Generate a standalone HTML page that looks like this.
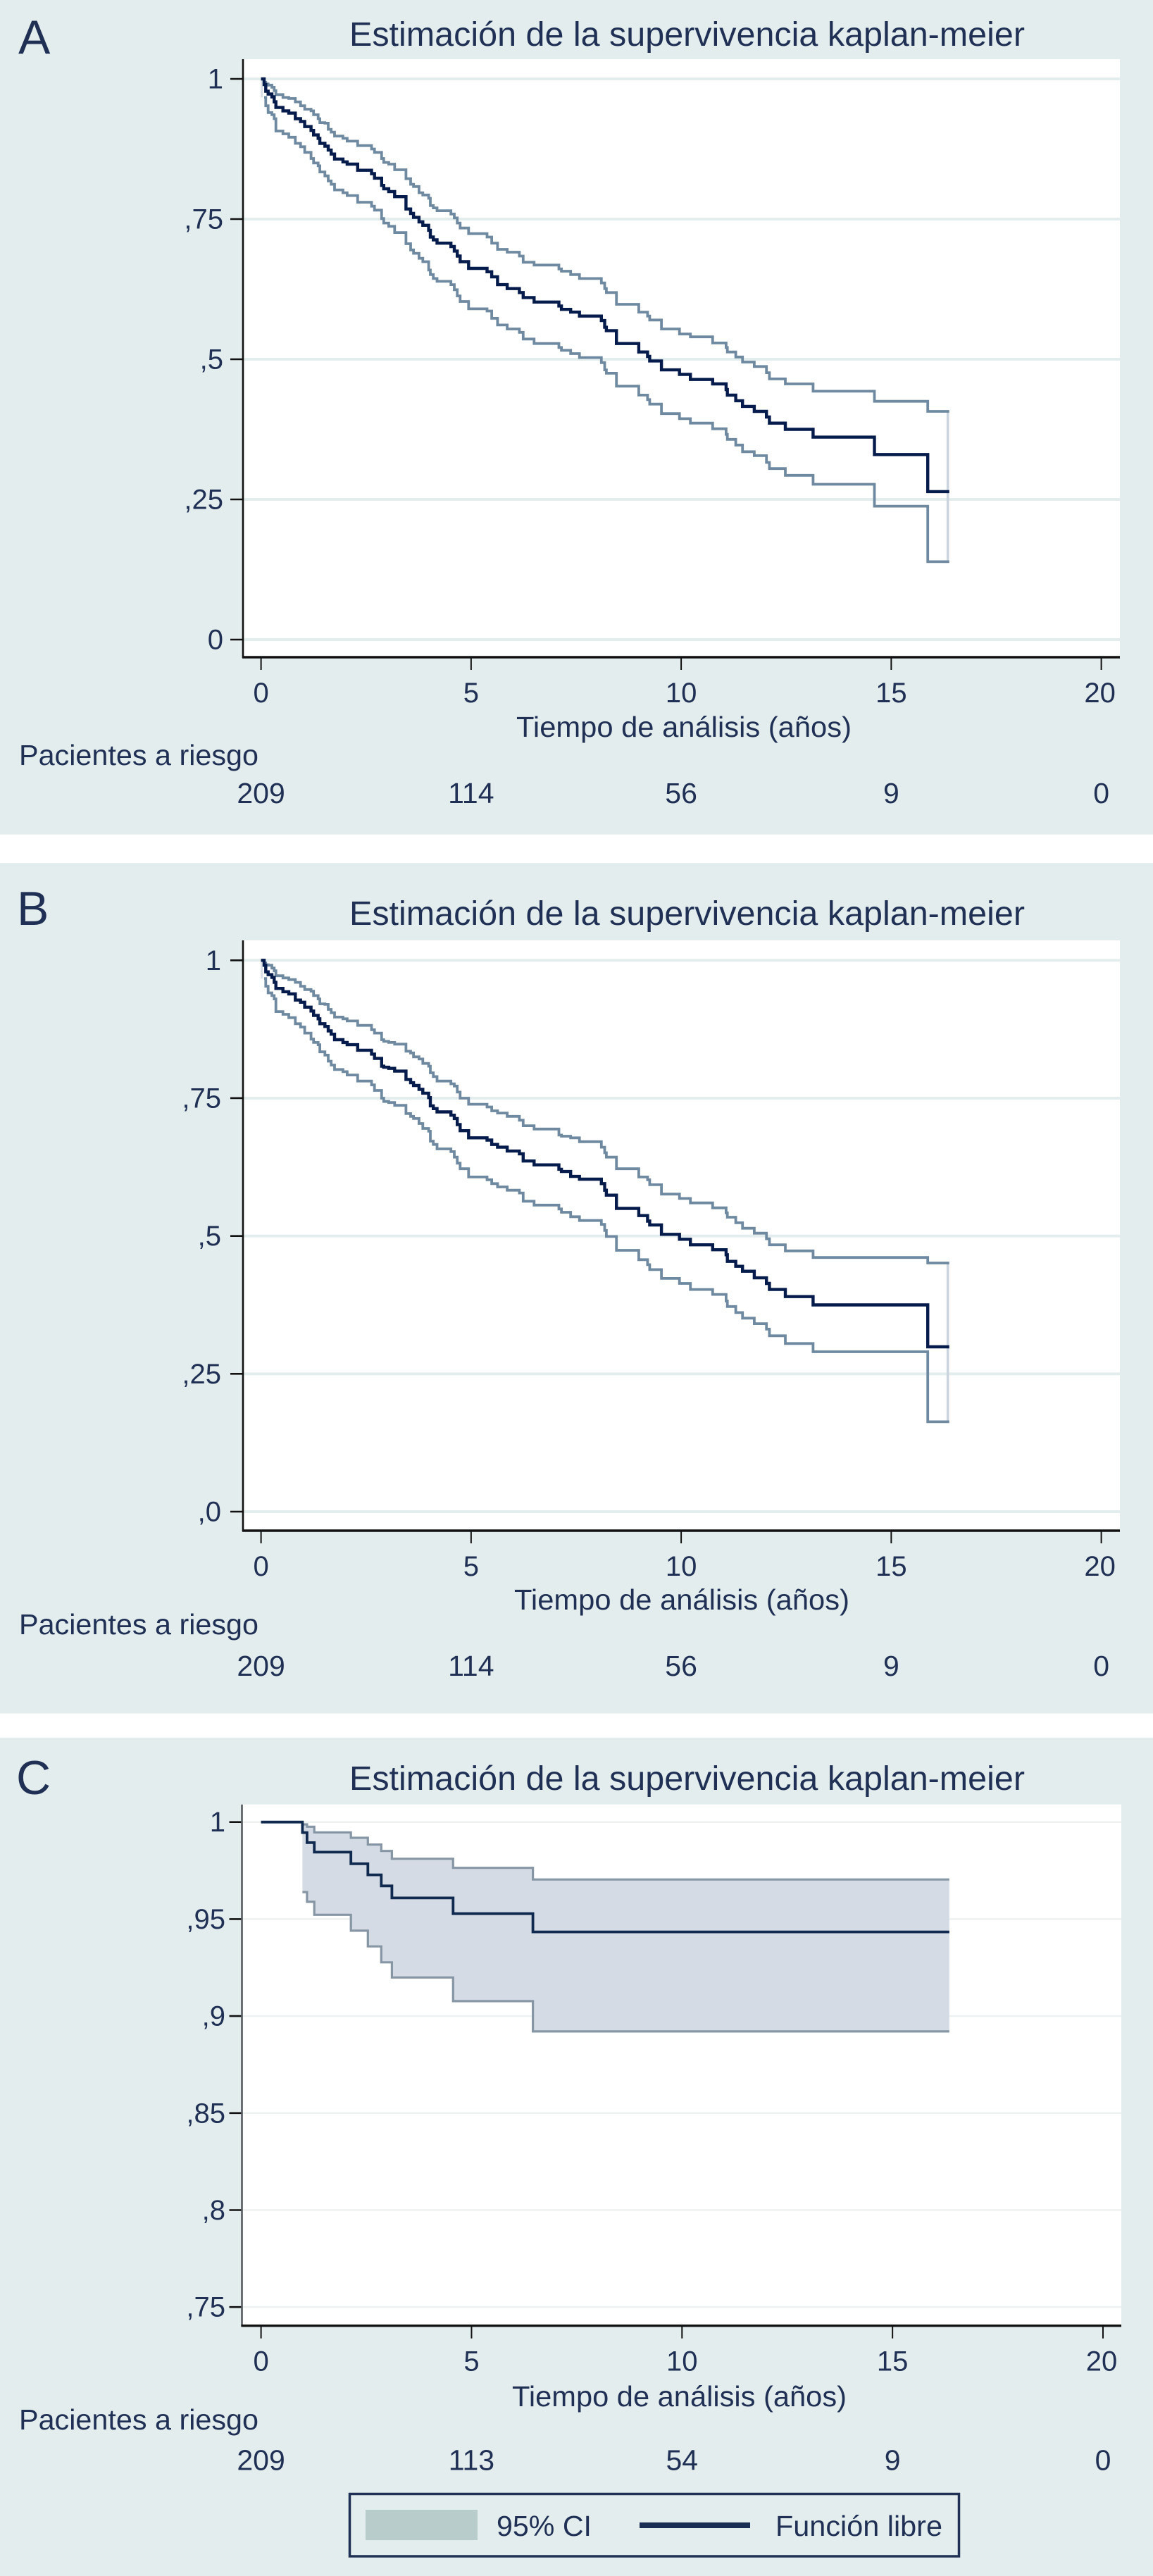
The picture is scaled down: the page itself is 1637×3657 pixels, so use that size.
<!DOCTYPE html>
<html lang="es">
<head>
<meta charset="utf-8">
<title>Estimación de la supervivencia kaplan-meier</title>
<style>
html,body{margin:0;padding:0;background:#fff;width:1637px;height:3657px;overflow:hidden}
svg{display:block}
text{font-family:"Liberation Sans",Arial,sans-serif;fill:#1f3054}
</style>
</head>
<body>
<svg id="figure" xmlns="http://www.w3.org/2000/svg" width="1637" height="3657" viewBox="0 0 1637 3657">
  <g id="panel-a">
    <rect x="0" y="0" width="1637" height="1184.6" fill="#e4edee"/>
    <rect x="345" y="84" width="1245" height="849" fill="#ffffff"/>
    <text x="26" y="76" font-size="68">A</text>
    <text x="496" y="65" font-size="48" textLength="959" lengthAdjust="spacingAndGlyphs">Estimación de la supervivencia kaplan-meier</text>
    <text x="733" y="1046" font-size="41" textLength="476" lengthAdjust="spacingAndGlyphs">Tiempo de análisis (años)</text>
    <text x="27" y="1086" font-size="41" textLength="340" lengthAdjust="spacingAndGlyphs">Pacientes a riesgo</text>
  </g>
  <g id="panel-b">
    <rect x="0" y="1225" width="1637" height="1207.5" fill="#e4edee"/>
    <rect x="345" y="1335" width="1245" height="838" fill="#ffffff"/>
    <text x="24" y="1313" font-size="68">B</text>
    <text x="496" y="1313" font-size="48" textLength="959" lengthAdjust="spacingAndGlyphs">Estimación de la supervivencia kaplan-meier</text>
    <text x="730" y="2285" font-size="41" textLength="476" lengthAdjust="spacingAndGlyphs">Tiempo de análisis (años)</text>
    <text x="27" y="2320" font-size="41" textLength="340" lengthAdjust="spacingAndGlyphs">Pacientes a riesgo</text>
  </g>
  <g id="panel-c">
    <rect x="0" y="2466.7" width="1637" height="1190.3" fill="#e4edee"/>
    <rect x="344" y="2561.7" width="1248" height="740" fill="#ffffff"/>
    <text x="23" y="2547" font-size="68">C</text>
    <text x="496" y="2541" font-size="48" textLength="959" lengthAdjust="spacingAndGlyphs">Estimación de la supervivencia kaplan-meier</text>
    <text x="727" y="3416" font-size="41" textLength="475" lengthAdjust="spacingAndGlyphs">Tiempo de análisis (años)</text>
    <text x="27" y="3449" font-size="41" textLength="340" lengthAdjust="spacingAndGlyphs">Pacientes a riesgo</text>
  </g>
  <g id="legend">
    <rect x="496.5" y="3540.5" width="865" height="88.5" fill="none" stroke="#1f3054" stroke-width="3.5"/>
    <rect x="519" y="3563" width="159" height="43" fill="#b8cdcb"/>
    <text x="705" y="3600" font-size="41" textLength="135" lengthAdjust="spacingAndGlyphs">95% CI</text>
    <rect x="908" y="3581" width="157" height="8" fill="#1a2d55"/>
    <text x="1101" y="3600" font-size="41" textLength="237" lengthAdjust="spacingAndGlyphs">Función libre</text>
  </g>
</svg>
<script>
const xTicks = [0, 5, 10, 15, 20];
const yTicksA = [1, 0.75, 0.5, 0.25, 0];
const yLabelsA = ["1", ",75", ",5", ",25", "0"];
const yTicksB = [1, 0.75, 0.5, 0.25, 0];
const yLabelsB = ["1", ",75", ",5", ",25", ",0"];
const yTicksC = [1, 0.95, 0.9, 0.85, 0.8, 0.75];
const yLabelsC = ["1", ",95", ",9", ",85", ",8", ",75"];
const riskA = [209, 114, 56, 9, 0];
const riskB = [209, 114, 56, 9, 0];
const riskC = [209, 113, 54, 9, 0];

const timesAB = [.074,.113,.169,.258,.314,.353,.521,.66,.817,.94,1.04,1.19,1.25,1.36,1.4,1.52,1.6,1.67,1.75,1.95,2.05,2.3,2.63,2.7,2.87,2.92,3.04,3.18,3.45,3.56,3.63,3.76,3.85,3.99,4.03,4.1,4.19,4.52,4.6,4.67,4.74,4.94,5.38,5.49,5.63,5.86,6.15,6.24,6.5,7.09,7.15,7.37,7.58,8.1,8.18,8.22,8.46,8.99,9.2,9.25,9.53,9.96,10.22,10.75,11.07,11.1,11.3,11.46,11.74,12.03,12.1,12.48,13.14,14.6,15.87];
const endTimeAB = 16.38;

const survA = [.99,.978,.973,.968,.959,.949,.943,.939,.929,.924,.915,.908,.9,.894,.885,.88,.873,.866,.857,.852,.848,.837,.831,.823,.81,.804,.799,.79,.768,.76,.753,.745,.739,.73,.718,.713,.707,.701,.693,.684,.674,.662,.656,.647,.633,.626,.619,.61,.602,.595,.589,.584,.577,.569,.557,.551,.528,.513,.505,.497,.481,.473,.464,.456,.446,.436,.426,.416,.407,.397,.386,.375,.361,.33,.264];
const upperA = [.994,.991,.989,.985,.979,.972,.967,.965,.959,.952,.946,.943,.936,.929,.922,.921,.91,.905,.898,.894,.889,.881,.875,.869,.858,.851,.848,.838,.822,.812,.808,.797,.793,.787,.774,.77,.765,.759,.752,.743,.734,.724,.718,.707,.696,.691,.684,.673,.668,.661,.657,.651,.644,.636,.626,.619,.598,.584,.577,.57,.554,.545,.54,.529,.521,.513,.504,.495,.487,.476,.465,.456,.443,.425,.407];
const lowerA = [.967,.952,.94,.936,.929,.907,.902,.896,.885,.879,.869,.858,.85,.845,.834,.827,.818,.812,.802,.797,.792,.78,.773,.766,.751,.743,.737,.726,.706,.695,.689,.68,.674,.659,.651,.644,.639,.633,.624,.613,.603,.59,.586,.573,.561,.554,.548,.536,.528,.521,.516,.51,.503,.494,.481,.475,.452,.436,.428,.42,.403,.394,.386,.376,.366,.357,.347,.335,.328,.316,.305,.293,.277,.238,.139];

const survB = [.991,.979,.974,.969,.96,.949,.943,.939,.928,.924,.915,.908,.9,.894,.885,.88,.872,.866,.856,.851,.847,.837,.83,.822,.808,.806,.804,.799,.784,.778,.773,.766,.759,.751,.736,.731,.725,.719,.713,.702,.691,.678,.674,.666,.661,.654,.649,.636,.629,.621,.617,.608,.603,.595,.583,.574,.55,.537,.527,.52,.503,.494,.484,.475,.466,.454,.445,.436,.424,.414,.403,.39,.375,.375,.299];
const upperB = [.995,.992,.991,.986,.981,.972,.968,.965,.96,.953,.947,.944,.936,.93,.921,.92,.911,.905,.897,.894,.89,.882,.874,.868,.856,.853,.851,.848,.835,.832,.825,.821,.813,.808,.796,.789,.781,.776,.772,.761,.75,.739,.734,.727,.723,.717,.71,.7,.694,.683,.681,.678,.671,.661,.651,.643,.622,.607,.602,.593,.576,.568,.56,.551,.542,.534,.524,.514,.505,.495,.484,.473,.461,.461,.451];
const lowerB = [.967,.953,.941,.936,.93,.907,.902,.896,.885,.879,.868,.857,.851,.847,.834,.828,.817,.81,.802,.798,.792,.781,.774,.764,.75,.744,.742,.737,.722,.717,.713,.704,.695,.69,.672,.666,.658,.653,.643,.632,.622,.607,.602,.595,.589,.583,.578,.563,.556,.549,.543,.535,.528,.521,.51,.499,.474,.457,.448,.439,.423,.414,.403,.394,.382,.372,.361,.351,.341,.331,.319,.305,.29,.29,.163];

const timesC = [.984,1.093,1.265,2.135,2.538,2.856,3.109,4.562,6.458];
const endTimeC = 16.35;
const survC = [.9946,.9894,.9845,.9785,.9728,.9671,.9609,.9528,.9434];
const upperC = [.9988,.9976,.9947,.9919,.9884,.9851,.9811,.9764,.9704];
const lowerC = [.9639,.9589,.9522,.944,.9359,.9277,.9199,.9077,.8921];

const NS = 'http://www.w3.org/2000/svg';

function add(parent, tag, attrs) {
  const el = document.createElementNS(NS, tag);
  for (const k in attrs) el.setAttribute(k, attrs[k]);
  parent.appendChild(el);
  return el;
}

function stepLine(times, values, xf, yf, startT, startV, endT) {
  let d = 'M' + xf(startT).toFixed(1) + ' ' + yf(startV).toFixed(1);
  for (let i = 0; i < times.length; i++) {
    d += 'H' + xf(times[i]).toFixed(1) + 'V' + yf(values[i]).toFixed(1);
  }
  return d + 'H' + xf(endT).toFixed(1);
}

function bandPath(times, upper, lower, xf, yf, endT) {
  let d = 'M' + xf(times[0]).toFixed(1) + ' ' + yf(1).toFixed(1);
  for (let i = 0; i < times.length; i++) {
    d += 'H' + xf(times[i]).toFixed(1) + 'V' + yf(upper[i]).toFixed(1);
  }
  d += 'H' + xf(endT).toFixed(1) + 'V' + yf(lower[lower.length - 1]).toFixed(1);
  for (let i = times.length - 1; i > 0; i--) {
    d += 'H' + xf(times[i]).toFixed(1) + 'V' + yf(lower[i - 1]).toFixed(1);
  }
  return d + 'H' + xf(times[0]).toFixed(1) + 'Z';
}

function drawPanel(p) {
  const root = document.getElementById(p.id);
  const xf = t => p.x0 + p.xPerYear * t;
  const yf = v => p.yAtOne + p.yPerUnit * (1 - v);

  p.yTicks.forEach((v, i) => {
    const grid = add(root, 'line', {x1: p.plotLeft, x2: p.plotRight, y1: yf(v), y2: yf(v), stroke: p.gridColor, 'stroke-width': p.gridWidth});
    
    
    const tick = add(root, 'line', {x1: p.plotLeft - 18, x2: p.plotLeft, y1: yf(v), y2: yf(v), stroke: '#111', 'stroke-width': 2.6});
    
    
    const label = add(root, 'text', {x: p.yLabelRight, y: yf(v) + 13.5, 'font-size': 40, 'text-anchor': 'end'});
    label.textContent = p.yLabels[i];
    
    
  });

  xTicks.forEach((t, i) => {
    const tick = add(root, 'line', {x1: xf(t), x2: xf(t), y1: p.axisY, y2: p.axisY + 18, stroke: '#111', 'stroke-width': 2});
    
    
    const label = add(root, 'text', {x: xf(t) - (t === 20 ? 2 : 0), y: p.axisY + 64, 'font-size': 40, 'text-anchor': 'middle'});
    label.textContent = String(t);
    
    
    const risk = add(root, 'text', {x: xf(t), y: p.riskY, 'font-size': 41, 'text-anchor': 'middle'});
    risk.textContent = String(p.risk[i]);
    
    
  });

  const lastLower = p.lower[p.lower.length - 1];
  const lastUpper = p.upper[p.upper.length - 1];

  if (p.band) {
    const band = add(root, 'path', {d: bandPath(p.times, p.upper, p.lower, xf, yf, p.endTime), fill: '#d4dbe4', stroke: 'none'});
    
    
  } else {
    const startLink = add(root, 'line', {x1: xf(0.02), x2: xf(0.02), y1: yf(1), y2: yf(p.lower[0]), stroke: '#d9dfe4', 'stroke-width': 3});
    
    
    const endLink = add(root, 'line', {x1: xf(p.endTime) - 2, x2: xf(p.endTime) - 2, y1: yf(lastUpper), y2: yf(lastLower), stroke: '#c9d4de', 'stroke-width': 3.5});
    
    
  }

  const upperLine = add(root, 'path', {d: stepLine(p.times, p.upper, xf, yf, 0, 1, p.endTime), fill: 'none', stroke: p.ciColor, 'stroke-width': p.ciWidth});
  
  
  const lowerLine = add(root, 'path', {d: stepLine(p.times.slice(1), p.lower.slice(1), xf, yf, p.times[0], p.lower[0], p.endTime), fill: 'none', stroke: p.ciColor, 'stroke-width': p.ciWidth});
  
  
  const survLine = add(root, 'path', {d: stepLine(p.times, p.surv, xf, yf, 0, 1, p.endTime), fill: 'none', stroke: p.mainColor, 'stroke-width': p.mainWidth});
  
  

  const yAxis = add(root, 'line', {x1: p.plotLeft, x2: p.plotLeft, y1: p.plotTop, y2: p.axisY + 1, stroke: p.yAxisColor, 'stroke-width': 2.6});
  
  
  const xAxis = add(root, 'line', {x1: p.plotLeft - 1, x2: p.plotRight, y1: p.axisY, y2: p.axisY, stroke: '#111', 'stroke-width': 3.4});
  
  
}

drawPanel({id: 'panel-a', times: timesAB, surv: survA, upper: upperA, lower: lowerA, endTime: endTimeAB, yTicks: yTicksA, yLabels: yLabelsA, risk: riskA,
  x0: 370.6, xPerYear: 59.65, yAtOne: 112, yPerUnit: 796, plotLeft: 345, plotRight: 1590, plotTop: 84, axisY: 933, riskY: 1140, yLabelRight: 317,
  gridColor: '#e4edee', gridWidth: 4, ciColor: '#6f8aa0', ciWidth: 3.8, mainColor: '#051b4b', mainWidth: 4.4, yAxisColor: '#111', band: false});
drawPanel({id: 'panel-b', times: timesAB, surv: survB, upper: upperB, lower: lowerB, endTime: endTimeAB, yTicks: yTicksB, yLabels: yLabelsB, risk: riskB,
  x0: 370.6, xPerYear: 59.65, yAtOne: 1363.3, yPerUnit: 782.7, plotLeft: 345, plotRight: 1590, plotTop: 1335, axisY: 2173, riskY: 2379, yLabelRight: 314,
  gridColor: '#e4edee', gridWidth: 4, ciColor: '#6f8aa0', ciWidth: 3.8, mainColor: '#051b4b', mainWidth: 4.4, yAxisColor: '#111', band: false});
drawPanel({id: 'panel-c', times: timesC, surv: survC, upper: upperC, lower: lowerC, endTime: endTimeC, yTicks: yTicksC, yLabels: yLabelsC, risk: riskC,
  x0: 370.6, xPerYear: 59.77, yAtOne: 2586.7, yPerUnit: 2754, plotLeft: 343.5, plotRight: 1592, plotTop: 2561.7, axisY: 3301.7, riskY: 3506.7, yLabelRight: 320,
  gridColor: '#eef1f1', gridWidth: 2.4, ciColor: '#8796a4', ciWidth: 3.2, mainColor: '#10294f', mainWidth: 3.8, yAxisColor: '#555a60', band: true});
</script>
</body>
</html>
